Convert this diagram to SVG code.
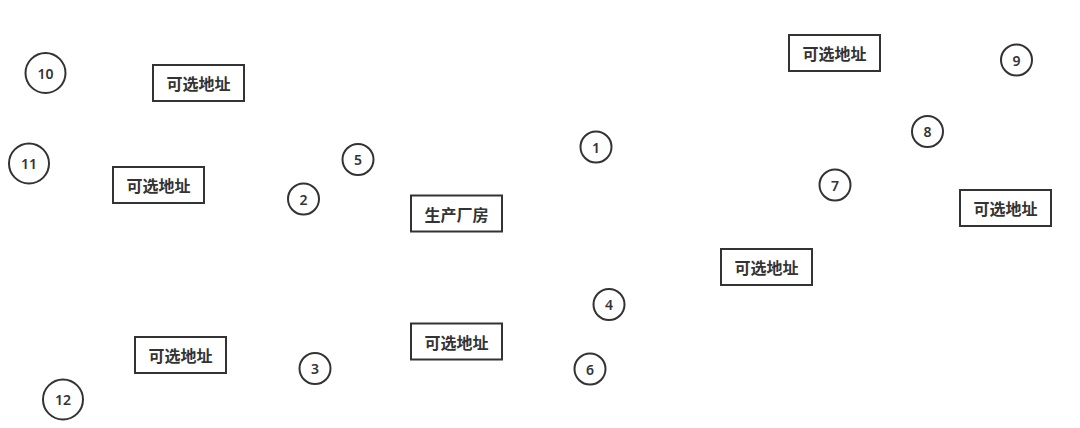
<svg xmlns="http://www.w3.org/2000/svg" width="1080" height="428" viewBox="0 0 1080 428">
<style>
.b{fill:#fff;stroke:#333;stroke-width:2}
.c{fill:#fff;stroke:#333;stroke-width:2}
.t{font-family:"Noto Sans CJK SC","Noto Sans",sans-serif;font-size:16px;font-weight:bold;fill:#333;text-anchor:middle;dominant-baseline:central}
.n{font-family:"Noto Sans","Open Sans",sans-serif;font-size:14px;font-weight:600;fill:#333;text-anchor:middle;dominant-baseline:central}
</style>
<rect width="1080" height="428" fill="#fff"/>
<g id="connectors"/>
<g id="factory"><rect class="b" x="411" y="195.5" width="91" height="36"/><text class="t" x="456.5" y="213.5">生产厂房</text></g>
<g id="site1"><rect class="b" x="153" y="65" width="91" height="36"/><text class="t" x="198.5" y="83">可选地址</text></g>
<g id="site2"><rect class="b" x="113" y="167" width="91" height="36"/><text class="t" x="158.5" y="185">可选地址</text></g>
<g id="site3"><rect class="b" x="135" y="337" width="91" height="36"/><text class="t" x="180.5" y="355">可选地址</text></g>
<g id="site4"><rect class="b" x="411" y="323.5" width="91" height="36"/><text class="t" x="456.5" y="341.5">可选地址</text></g>
<g id="site5"><rect class="b" x="721" y="249" width="91" height="36"/><text class="t" x="766.5" y="267">可选地址</text></g>
<g id="site6"><rect class="b" x="789" y="35" width="91" height="36"/><text class="t" x="834.5" y="53">可选地址</text></g>
<g id="site7"><rect class="b" x="960" y="190" width="91" height="36"/><text class="t" x="1005.5" y="208">可选地址</text></g>
<g id="n1"><circle class="c" cx="596" cy="147" r="15.5"/><text class="n" x="596" y="147">1</text></g>
<g id="n2"><circle class="c" cx="303.5" cy="199" r="15.5"/><text class="n" x="303.5" y="199">2</text></g>
<g id="n3"><circle class="c" cx="315" cy="368.5" r="15.5"/><text class="n" x="315" y="368.5">3</text></g>
<g id="n4"><circle class="c" cx="609" cy="304.5" r="15.5"/><text class="n" x="609" y="304.5">4</text></g>
<g id="n5"><circle class="c" cx="358" cy="159.5" r="15.5"/><text class="n" x="358" y="159.5">5</text></g>
<g id="n6"><circle class="c" cx="590" cy="369" r="15.5"/><text class="n" x="590" y="369">6</text></g>
<g id="n7"><circle class="c" cx="835" cy="185" r="15.5"/><text class="n" x="835" y="185">7</text></g>
<g id="n8"><circle class="c" cx="927.5" cy="131.5" r="15.5"/><text class="n" x="927.5" y="131.5">8</text></g>
<g id="n9"><circle class="c" cx="1016.5" cy="60" r="15.5"/><text class="n" x="1016.5" y="60">9</text></g>
<g id="n10"><circle class="c" cx="45.5" cy="73" r="20"/><text class="n" x="45.5" y="73">10</text></g>
<g id="n11"><circle class="c" cx="29" cy="163.5" r="20"/><text class="n" x="29" y="163.5">11</text></g>
<g id="n12"><circle class="c" cx="63" cy="399.5" r="20"/><text class="n" x="63" y="399.5">12</text></g>
</svg>
